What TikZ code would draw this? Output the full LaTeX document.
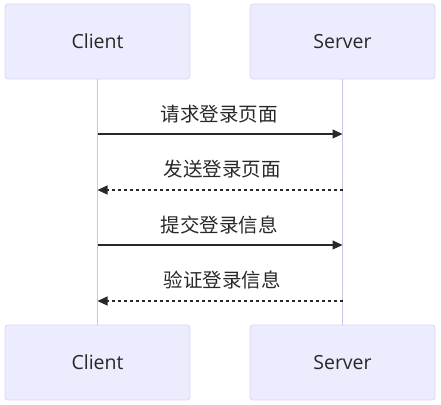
\documentclass[tikz,border=0pt]{standalone}
\usepackage{fontspec}
\setmainfont{Open Sans}
\newfontfamily\cjk{Noto Sans CJK SC}
\usetikzlibrary{arrows.meta,positioning}
\definecolor{actorfill}{RGB}{236,236,255}
\definecolor{actorline}{RGB}{222,212,245}
\definecolor{lifeline}{RGB}{205,195,235}
\definecolor{msgline}{RGB}{40,40,40}

\begin{document}
\begin{tikzpicture}[x=1pt, y=-1pt,
  actor/.style={draw=actorline, fill=actorfill, rounded corners=3pt,
    minimum width=185pt, minimum height=75pt, line width=0.8pt,
    font=\fontsize{19.5}{23}\selectfont, text=msgline},
  msg/.style={-{Triangle[length=10pt,width=9pt]}, msgline, line width=1.2pt},
  reply/.style={msg, dash pattern=on 3pt off 3pt},
  msglabel/.style={font=\fontsize{19.5}{23}\selectfont\cjk, text=msgline}]
\useasboundingbox (0,0) rectangle (441,404);
% Actors
\node[actor] (clienttop) at (97.5,41.5) {Client};
\node[actor] (servertop) at (342.5,41.5) {Server};
\node[actor] (clientbot) at (97.5,362.5) {Client};
\node[actor] (serverbot) at (342.5,362.5) {Server};
% Lifelines
\draw[lifeline, line width=1pt] (clienttop.south) -- (clientbot.north);
\draw[lifeline, line width=1pt] (servertop.south) -- (serverbot.north);
% Messages
\coordinate (c1) at (97.5,134); \coordinate (s1) at (342.5,134);
\coordinate (c2) at (97.5,190); \coordinate (s2) at (342.5,190);
\coordinate (c3) at (97.5,245); \coordinate (s3) at (342.5,245);
\coordinate (c4) at (97.5,301); \coordinate (s4) at (342.5,301);
\draw[msg] (c1) -- (s1);
\node[msglabel] (m1) at (219,114) {请求登录页面};
\draw[reply] (s2) -- (c2);
\node[msglabel] (m2) at (222,169) {发送登录页面};
\draw[msg] (c3) -- (s3);
\node[msglabel] (m3) at (219,225) {提交登录信息};
\draw[reply] (s4) -- (c4);
\node[msglabel] (m4) at (222,280) {验证登录信息};
\end{tikzpicture}
\end{document}
